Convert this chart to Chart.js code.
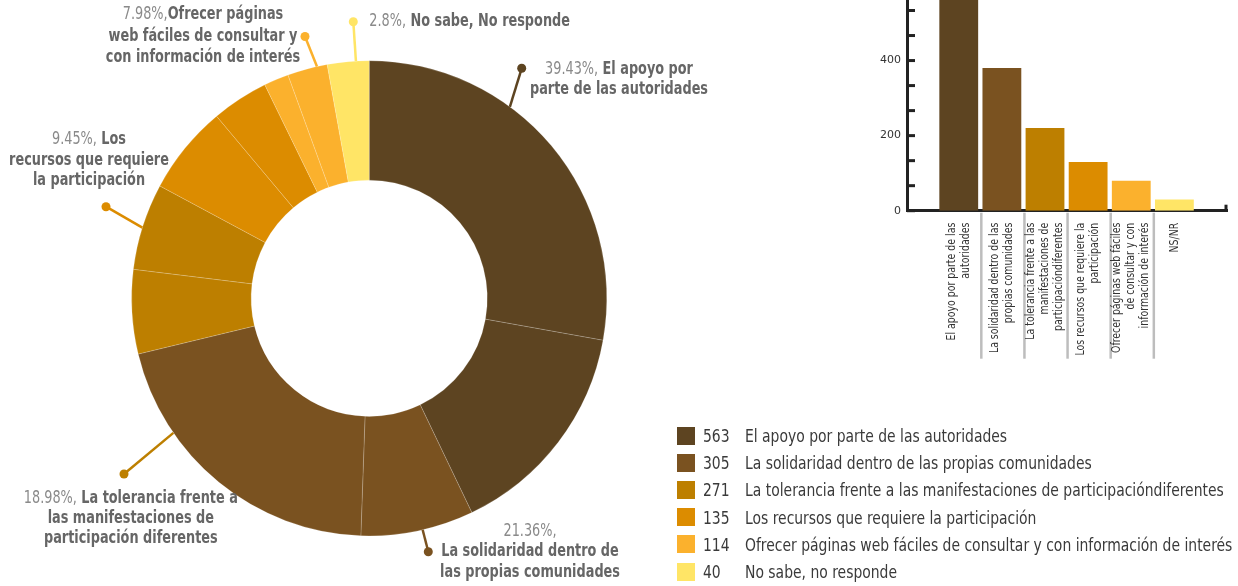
<!DOCTYPE html>
<html>
<head>
<meta charset="utf-8">
<script src="https://cdn.jsdelivr.net/npm/chart.js@4.4.1/dist/chart.umd.min.js"></script>
<style>
  body { margin: 0; width: 1238px; height: 586px; overflow: hidden; background: #fff; position: relative;
         font-family: 'DejaVu Sans Condensed', sans-serif; }
  #ring { position: absolute; left: 0; top: 0; }
  #bars { position: absolute; left: 860px; top: -41px; }
  #legend { position: absolute; left: 677px; top: 422px; color: #3a3a3a; font-size: 18px; }
  .row { height: 27.2px; display: flex; align-items: center; white-space: nowrap; }
  .sw { width: 18px; height: 18px; margin-right: 8px; flex: none; }
  .num { width: 42px; flex: none; }
  .num span, .txt { display: inline-block; transform: scaleX(0.86); transform-origin: left center; }
</style>
</head>
<body>
<canvas id="ring" width="760" height="586"></canvas>
<canvas id="bars" width="378" height="420"></canvas>
<div id="legend"></div>
<script>
const FONT = "'DejaVu Sans Condensed', sans-serif";
const NARROW = 0.84;   // the original face is narrower than any installed one

const categories = [
  'El apoyo por parte de las autoridades',
  'La solidaridad dentro de las propias comunidades',
  'La tolerancia frente a las manifestaciones de participacióndiferentes',
  'Los recursos que requiere la participación',
  'Ofrecer páginas web fáciles de consultar y con información de interés',
  'No sabe, no responde'
];
const counts = [563, 305, 271, 135, 114, 40];
const shares = [39.43, 21.36, 18.98, 9.45, 7.98, 2.8];
const colors = ['#5d4421', '#7a5220', '#bd7f00', '#dc8c00', '#fbb12d', '#ffe566'];

// the ring as it is drawn: sub-slices (% of the circle) and the category of each
const ringShares = [27.83, 15.06, 7.67, 20.67, 5.72, 5.89, 6.06, 3.86, 1.69, 2.72, 2.83];
const ringCategory = [0, 0, 1, 1, 2, 2, 3, 3, 4, 4, 5];

// bar chart
const barLabels = [
  ['El apoyo por parte de las', 'autoridades'],
  ['La solidaridad dentro de las', 'propias comunidades'],
  ['La tolerancia frente a las', 'manifestaciones de', 'participacióndiferentes'],
  ['Los recursos que requiere la', 'participación'],
  ['Ofrecer páginas web fáciles', 'de consultar y con', 'información de interés'],
  ['NS/NR']
];
const barValues = [563, 380, 220, 130, 80, 30];
const yTickLabels = [0, 200, 400, 600];

// callout texts around the ring
const calloutNames = [
  [' El apoyo por', 'parte de las autoridades'],
  ['', 'La solidaridad dentro de', 'las propias comunidades'],
  [' La tolerancia frente a', 'las manifestaciones de', 'participación diferentes'],
  [' Los', 'recursos que requiere', 'la participación'],
  ['Ofrecer páginas', 'web fáciles de consultar y', 'con información de interés'],
  [' No sabe, No responde']
];
// callout layout: ring angle of the leader, dot position, text anchor
const calloutLayout = [
  { angle: 36.3,  dot: [521.7, 68.3],  x: 619,   y: 70,    lh: 19.5, align: 'center' },
  { angle: 167,   dot: [428.3, 551.7], x: 530,   y: 531.7, lh: 20.3, align: 'center' },
  { angle: 235.5, dot: [124, 474],     x: 130.8, y: 498.3, lh: 20.3, align: 'center' },
  { angle: 287.3, dot: [106, 206.7],   x: 89,    y: 139.3, lh: 20.8, align: 'center' },
  { angle: 347.3, dot: [305, 36.5],    x: 203,   y: 15,    lh: 21.5, align: 'center' },
  { angle: 356.8, dot: [353.3, 21.7],  x: 369.3, y: 22,    lh: 20,   align: 'left' }
];

function narrowText(ctx, text, x, y, sx) {
  ctx.save();
  ctx.translate(x, y);
  ctx.scale(sx, 1);
  ctx.fillText(text, 0, 0);
  ctx.restore();
}

const calloutPlugin = {
  id: 'callouts',
  afterDraw(chart) {
    const ctx = chart.ctx;
    const arc = chart.getDatasetMeta(0).data[0];
    const cx = arc.x, cy = arc.y, r = arc.outerRadius;
    const pctFont = '17px ' + FONT, nameFont = 'bold 17px ' + FONT;
    calloutLayout.forEach((c, i) => {
      const a = c.angle * Math.PI / 180;
      const ex = cx + r * Math.sin(a), ey = cy - r * Math.cos(a);
      ctx.save();
      ctx.strokeStyle = colors[i];
      ctx.fillStyle = colors[i];
      ctx.lineWidth = 2.5;
      ctx.beginPath();
      ctx.moveTo(ex, ey);
      ctx.lineTo(c.dot[0], c.dot[1]);
      ctx.stroke();
      ctx.beginPath();
      ctx.arc(c.dot[0], c.dot[1], 4.5, 0, Math.PI * 2);
      ctx.fill();
      ctx.textBaseline = 'middle';
      ctx.textAlign = 'left';
      calloutNames[i].forEach((name, j) => {
        const runs = [];
        if (j === 0) runs.push({ t: shares[i] + '%,', f: pctFont, col: '#8a8a8a' });
        if (name) runs.push({ t: name, f: nameFont, col: '#666' });
        let w = 0;
        runs.forEach(run => { ctx.font = run.f; run.w = ctx.measureText(run.t).width * NARROW; w += run.w; });
        let x = c.align === 'center' ? c.x - w / 2 : c.x;
        const y = c.y + j * c.lh;
        runs.forEach(run => {
          ctx.font = run.f;
          ctx.fillStyle = run.col;
          narrowText(ctx, run.t, x, y, NARROW);
          x += run.w;
        });
      });
      ctx.restore();
    });
  }
};

new Chart(document.getElementById('ring'), {
  type: 'doughnut',
  data: {
    labels: ringCategory.map(c => categories[c]),
    datasets: [{
      data: ringShares,
      backgroundColor: ringCategory.map(c => colors[c]),
      borderColor: 'rgba(255,255,255,0.3)',
      borderWidth: 0.6,
    }]
  },
  options: {
    responsive: false,
    animation: false,
    radius: 237.6,
    cutout: '49.7%',
    layout: { padding: { left: 10, right: 31.6, top: 20, bottom: 9.4 } },
    plugins: { legend: { display: false }, tooltip: { enabled: false } },
  },
  plugins: [calloutPlugin],
});

const axisDecor = {
  id: 'axisDecor',
  afterDraw(chart) {
    const ctx = chart.ctx;
    const area = chart.chartArea;
    const x = chart.scales.x, y = chart.scales.y;
    ctx.save();
    // inner ticks on the y axis
    ctx.strokeStyle = '#222';
    ctx.lineWidth = 3;
    y.ticks.forEach(t => {
      const py = y.getPixelForValue(t.value);
      ctx.beginPath();
      ctx.moveTo(area.left, py);
      ctx.lineTo(area.left + 8, py);
      ctx.stroke();
    });
    ctx.beginPath();
    ctx.moveTo(area.right - 1, area.bottom);
    ctx.lineTo(area.right - 1, area.bottom - 6);
    ctx.stroke();
    // separators between categories
    ctx.strokeStyle = '#bdbdbd';
    ctx.lineWidth = 2.5;
    for (let i = 0; i < barLabels.length - 1; i++) {
      const px = (x.getPixelForValue(i) + x.getPixelForValue(i + 1)) / 2 + 1;
      ctx.beginPath();
      ctx.moveTo(px, area.bottom + 2);
      ctx.lineTo(px, area.bottom + 148);
      ctx.stroke();
    }
    // rotated category labels
    ctx.fillStyle = '#333';
    ctx.font = '12px ' + FONT;
    ctx.textAlign = 'right';
    ctx.textBaseline = 'middle';
    barLabels.forEach((lines, i) => {
      ctx.save();
      ctx.translate(x.getPixelForValue(i), area.bottom + 12);
      ctx.rotate(-Math.PI / 2);
      ctx.scale(0.87, 1);
      lines.forEach((ln, j) => ctx.fillText(ln, 0, (j - (lines.length - 1) / 2) * 14));
      ctx.restore();
    });
    ctx.restore();
  }
};

new Chart(document.getElementById('bars'), {
  type: 'bar',
  data: {
    datasets: [{
      data: barValues.map((v, i) => ({ x: i, y: v })),
      backgroundColor: colors,
      barPercentage: 0.9,
      categoryPercentage: 1,
    }]
  },
  options: {
    responsive: false,
    animation: false,
    layout: { padding: { left: 0, right: 11, top: 0, bottom: 0 } },
    plugins: { legend: { display: false }, tooltip: { enabled: false } },
    scales: {
      x: {
        type: 'linear', min: -1.2, max: 6.22, offset: false,
        grid: { display: false },
        border: { color: '#222', width: 3 },
        ticks: { display: false },
        afterFit: s => { s.height = 168.3; },
      },
      y: {
        min: 0, max: 637,
        grid: { display: false, drawTicks: false },
        border: { color: '#222', width: 3 },
        ticks: {
          stepSize: 200 / 3,
          padding: 6,
          color: '#333',
          font: { family: 'DejaVu Sans', size: 11 },
          callback: v => {
            const r = Math.round(v / 200) * 200;
            return Math.abs(v - r) < 0.01 && yTickLabels.includes(r) ? String(r) : '';
          },
        },
        afterFit: s => { s.width = 47; },
      },
    },
  },
  plugins: [axisDecor],
});

// legend
const legend = document.getElementById('legend');
categories.forEach((c, i) => {
  const row = document.createElement('div');
  row.className = 'row';
  row.innerHTML = '<span class="sw" style="background:' + colors[i] + '"></span>' +
    '<span class="num"><span>' + counts[i] + '</span></span><span class="txt">' + c + '</span>';
  legend.appendChild(row);
});
</script>
</body>
</html>
